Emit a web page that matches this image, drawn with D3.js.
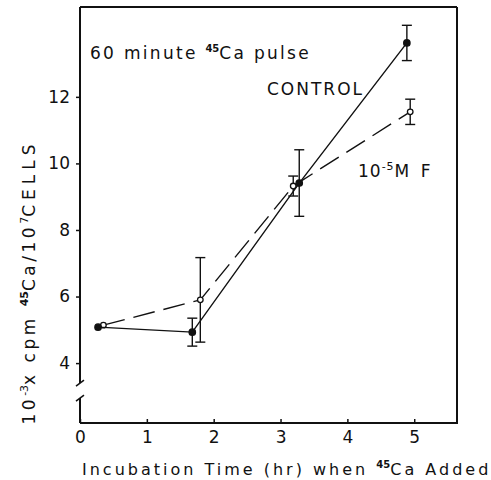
<!DOCTYPE html>
<html>
<head>
<meta charset="utf-8">
<script src="https://cdn.jsdelivr.net/npm/d3@7"></script>
<style>
body{margin:0;background:#fff;}
text{font-family:"DejaVu Sans",sans-serif;fill:#111;}
</style>
</head>
<body>
<svg></svg>
<script>
//data
var hours = [0.27, 1.68, 3.28, 4.89];
var controlVals = [5.08, 4.93, 9.41, 13.62];
var controlErr = [0, 0.42, 1.0, 0.53];
var fHours = [0.35, 1.8, 3.19, 4.94];
var fVals = [5.14, 5.9, 9.32, 11.55];
var fErr = [0, 1.27, 0.3, 0.38];
var xTicks = [0, 1, 2, 3, 4, 5];
var yTicks = [4, 6, 8, 10, 12];

/*********chart params************/
var width = 491;
var height = 480;
var plot = {left:80, right:457, top:7, bottom:423};
var svg = d3.select('svg')
	.attr('width',width)
	.attr('height',height);

var xScale = d3.scaleLinear()
	.domain([0,5.64])
	.range([plot.left,plot.right]);
var yScale = d3.scaleLinear()
	.domain([2.2,14.7])
	.range([plot.bottom,plot.top]);

//axes
var axisX = d3.axisBottom(xScale).tickValues(xTicks).tickFormat(d3.format('d')).tickSize(-4).tickPadding(8);
var axisY = d3.axisLeft(yScale).tickValues(yTicks).tickFormat(d3.format('d')).tickSize(4).tickPadding(6);
var axisXG = svg.append('g')
	.attr('transform','translate(0,'+plot.bottom+')')
	.call(axisX);
var axisYG = svg.append('g')
	.attr('transform','translate('+plot.left+',0)')
	.call(axisY);
[axisXG,axisYG].forEach(function(g){
	g.select('.domain').remove();
	g.selectAll('.tick line').attr('stroke','#111').attr('stroke-width',1.5);
	g.selectAll('.tick text').style('font-size','17px').attr('fill','#111');
});

//frame, with a break on the left axis
var frame = svg.append('g').attr('stroke','#111').attr('fill','none').attr('stroke-width',2);
frame.append('line').attr('x1',plot.left).attr('x2',plot.right).attr('y1',plot.top).attr('y2',plot.top);
frame.append('line').attr('x1',plot.right).attr('x2',plot.right).attr('y1',plot.top).attr('y2',plot.bottom);
frame.append('line').attr('x1',plot.left).attr('x2',plot.right+1).attr('y1',plot.bottom).attr('y2',plot.bottom);
frame.append('line').attr('x1',plot.left).attr('x2',plot.left).attr('y1',plot.top).attr('y2',yScale(3.4));
frame.append('line').attr('x1',plot.left).attr('x2',plot.left).attr('y1',yScale(2.95)).attr('y2',plot.bottom);
[3.4,2.95].forEach(function(v){
	frame.append('line').attr('stroke-width',1.5)
		.attr('x1',plot.left-4).attr('x2',plot.left+4)
		.attr('y1',yScale(v)+3).attr('y2',yScale(v)-3);
});

//series
function drawSeries(xs,vals,errs,filled,dash){
	var pts = xs.map(function(x,i){return {x:x,v:vals[i],e:errs[i]};});
	var line = d3.line().x(function(d){return xScale(d.x);}).y(function(d){return yScale(d.v);});
	var g = svg.append('g');
	g.append('path').datum(pts).attr('d',line)
		.attr('fill','none').attr('stroke','#111').attr('stroke-width',1.4)
		.attr('stroke-dasharray',dash);
	var eb = g.selectAll('.eb').data(pts.filter(function(d){return d.e>0;})).enter().append('g')
		.attr('stroke','#111').attr('stroke-width',1.4);
	eb.append('line').attr('x1',function(d){return xScale(d.x);}).attr('x2',function(d){return xScale(d.x);})
		.attr('y1',function(d){return yScale(d.v+d.e);}).attr('y2',function(d){return yScale(d.v-d.e);});
	[1,-1].forEach(function(s){
		eb.append('line').attr('x1',function(d){return xScale(d.x)-5;}).attr('x2',function(d){return xScale(d.x)+5;})
			.attr('y1',function(d){return yScale(d.v+s*d.e);}).attr('y2',function(d){return yScale(d.v+s*d.e);});
	});
	g.selectAll('circle').data(pts).enter().append('circle')
		.attr('cx',function(d){return xScale(d.x);}).attr('cy',function(d){return yScale(d.v);})
		.attr('r',filled?3.2:2.8)
		.attr('fill',filled?'#111':'#fff').attr('stroke','#111').attr('stroke-width',1.3);
}
drawSeries(fHours,fVals,fErr,false,'22,9');
drawSeries(hours,controlVals,controlErr,true,null);

//labels
var t1 = svg.append('text').attr('x',90).attr('y',59).style('font-size','17px').style('letter-spacing','2.3px');
t1.append('tspan').text('60 minute ');
t1.append('tspan').text('45').style('font-size','10px').style('font-weight','bold').style('letter-spacing','0px').attr('dy',-7);
t1.append('tspan').text('Ca pulse').attr('dy',7);

svg.append('text').attr('x',267).attr('y',95).style('font-size','17px').style('letter-spacing','2px').text('CONTROL');

var t2 = svg.append('text').attr('x',358).attr('y',177).style('font-size','17px').style('letter-spacing','1px');
t2.append('tspan').text('10');
t2.append('tspan').text('-5').style('font-size','11px').attr('dy',-7);
t2.append('tspan').text('M F').attr('dy',7).style('letter-spacing','3px');

var xt = svg.append('text').attr('x',82).attr('y',475).style('font-size','16px').style('letter-spacing','3px');
xt.append('tspan').text('Incubation Time (hr) when ');
xt.append('tspan').text('45').style('font-size','10px').style('font-weight','bold').style('letter-spacing','0px').attr('dy',-7);
xt.append('tspan').text('Ca Added').attr('dy',7);

var yt = svg.append('text').attr('transform','translate(35,282) rotate(-90)')
	.attr('text-anchor','middle').style('font-size','17px').style('letter-spacing','3.5px');
yt.append('tspan').text('10');
yt.append('tspan').text('-3').style('font-size','11px').style('letter-spacing','0px').attr('dy',-7);
yt.append('tspan').text('x cpm ').attr('dy',7);
yt.append('tspan').text('45').style('font-size','11px').style('font-weight','bold').style('letter-spacing','0px').attr('dy',-7);
yt.append('tspan').text('Ca/10').attr('dy',7);
yt.append('tspan').text('7').style('font-size','11px').style('letter-spacing','0px').attr('dy',-7);
yt.append('tspan').text('CELLS').attr('dy',7).style('letter-spacing','5px');
</script>
</body>
</html>
